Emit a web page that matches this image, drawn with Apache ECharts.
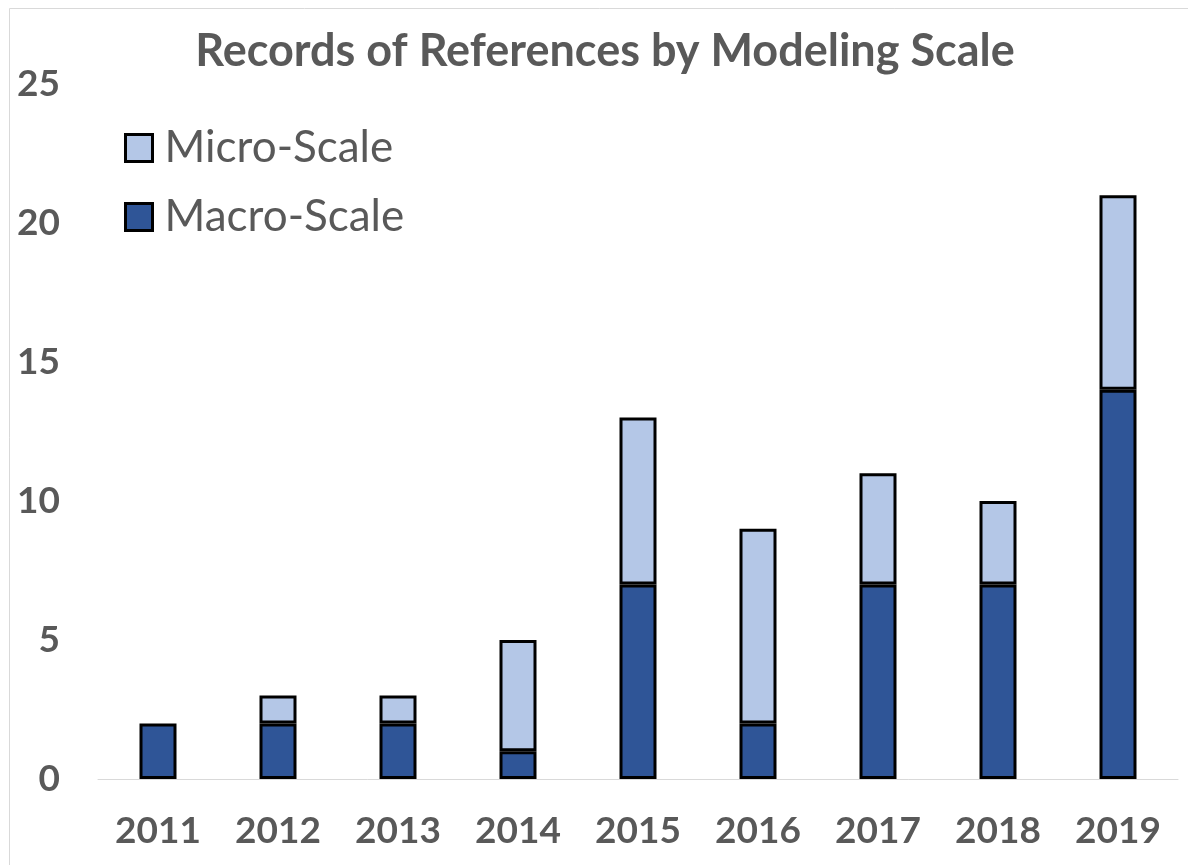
<!DOCTYPE html>
<html>
<head>
<meta charset="utf-8">
<script src="https://cdn.jsdelivr.net/npm/echarts@6/dist/echarts.min.js"></script>
<style>
html,body{margin:0;padding:0;background:#fff;}
#chart{width:1188px;height:865px;}
</style>
</head>
<body>
<div id="chart"></div>
<script>
const years = ['2011','2012','2013','2014','2015','2016','2017','2018','2019'];
const macroScale = [2, 2, 2, 1, 7, 2, 7, 7, 14];
const microScale = [0, 1, 1, 4, 6, 7, 4, 3, 7];
const yTicks = {min: 0, max: 25, interval: 5};

const chart = echarts.init(document.getElementById('chart'));
const FONT = 'Lato';
chart.setOption({
  backgroundColor: '#fff',
  animation: false,
  graphic: [{
    type: 'rect', left: 7, top: 6,
    shape: {width: 1300, height: 1000},
    style: {fill: 'none', stroke: '#d9d9d9', lineWidth: 1},
    silent: true, z: -1
  }],
  title: {
    text: 'Records of References by Modeling Scale',
    left: 600, textAlign: 'center', top: 24,
    textStyle: {fontFamily: FONT, fontSize: 45, fontWeight: 'bold', color: '#595959'}
  },
  legend: {
    orient: 'vertical', left: 119, top: 121,
    itemWidth: 27, itemHeight: 27, itemGap: 25,
    data: ['Micro-Scale', 'Macro-Scale'],
    icon: 'rect',
    itemStyle: {borderColor: '#000', borderWidth: 3},
    textStyle: {fontFamily: FONT, fontSize: 44, color: '#595959', padding: [0,0,0,7]}
  },
  grid: {left: 98, right: 10, top: 84, bottom: 86, containLabel: false},
  xAxis: {
    type: 'category', data: years,
    axisLine: {show: true, lineStyle: {color: '#d9d9d9', width: 1}},
    axisTick: {show: false},
    axisLabel: {fontFamily: FONT, fontSize: 37, fontWeight: 'bold', color: '#595959', margin: 34}
  },
  yAxis: {
    type: 'value', min: yTicks.min, max: yTicks.max, interval: yTicks.interval,
    axisLine: {show: false}, axisTick: {show: false},
    splitLine: {show: false},
    axisLabel: {fontFamily: FONT, fontSize: 37, fontWeight: 'bold', color: '#595959', margin: 38}
  },
  series: [
    {
      name: 'Macro-Scale', type: 'bar', stack: 'total', data: macroScale,
      barWidth: 37,
      itemStyle: {color: '#2F5597', borderColor: '#000', borderWidth: 3}
    },
    {
      name: 'Micro-Scale', type: 'bar', stack: 'total',
      data: microScale.map(v => v === 0 ? null : v),
      barWidth: 37,
      itemStyle: {color: '#B4C7E7', borderColor: '#000', borderWidth: 3}
    }
  ]
});
</script>
</body>
</html>
